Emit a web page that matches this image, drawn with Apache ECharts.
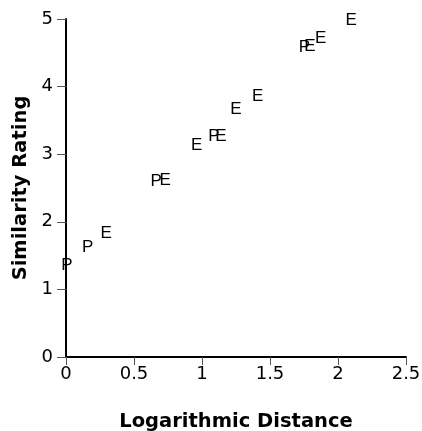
<!DOCTYPE html>
<html>
<head>
<meta charset="utf-8">
<script src="https://cdn.jsdelivr.net/npm/echarts@6/dist/echarts.min.js"></script>
<style>
html,body{margin:0;padding:0;background:#fff;}
#chart{width:422px;height:431px;}
</style>
</head>
<body>
<div id="chart"></div>
<script>
// Data
var eX = [0.296, 0.729, 0.96, 1.14, 1.25, 1.41, 1.794, 1.872, 2.097];
var eY = [1.83, 2.62, 3.13, 3.27, 3.67, 3.85, 4.59, 4.71, 4.975];
var pX = [0.006, 0.16, 0.663, 1.087, 1.754];
var pY = [1.35, 1.62, 2.60, 3.26, 4.575];
var xTicks = [0, 0.5, 1, 1.5, 2, 2.5];
var yTicks = [0, 1, 2, 3, 4, 5];

function pairs(xs, ys){ return xs.map(function(x,i){ return [x, ys[i]]; }); }

var font = '"DejaVu Sans", sans-serif';
var letterFont = '"Liberation Sans", Arial, sans-serif';
function letterSeries(name, xs, ys){
  return {
    type: 'scatter',
    name: name,
    data: pairs(xs, ys),
    symbolSize: 1,
    itemStyle: { color: 'rgba(0,0,0,0)' },
    label: {
      show: true,
      position: 'inside',
      formatter: name,
      color: '#000',
      opacity: 1,
      fontFamily: letterFont,
      fontSize: 17
    },
    emphasis: { disabled: true },
    z: 5
  };
}

var chart = echarts.init(document.getElementById('chart'), null, {renderer: 'canvas'});
chart.setOption({
  animation: false,
  backgroundColor: '#fff',
  grid: { left: 66, right: 16, top: 19, bottom: 74, containLabel: false, outerBoundsMode: 'none' },
  xAxis: {
    type: 'value', min: 0, max: 2.5, interval: 0.5,
    name: 'Logarithmic Distance', nameLocation: 'middle', nameGap: 55,
    nameTextStyle: { fontFamily: font, fontSize: 19.5, fontWeight: 'bold', color: '#000' },
    axisLine: { show: true, onZero: false, lineStyle: { color: '#000', width: 2 } },
    axisTick: { show: true, length: 8, inside: false, lineStyle: { color: '#555', width: 1 } },
    axisLabel: {
      fontFamily: font, fontSize: 18, color: '#000', margin: 8,
      formatter: function(v){ return xTicks.indexOf(v) >= 0 ? String(v) : ''; }
    },
    splitLine: { show: false }
  },
  yAxis: {
    type: 'value', min: 0, max: 5, interval: 1,
    name: 'Similarity Rating', nameLocation: 'middle', nameGap: 33, nameRotate: 90,
    nameTextStyle: { fontFamily: font, fontSize: 19.5, fontWeight: 'bold', color: '#000' },
    axisLine: { show: true, onZero: false, lineStyle: { color: '#000', width: 2 } },
    axisTick: { show: true, length: 9, inside: false, lineStyle: { color: '#555', width: 1 } },
    axisLabel: {
      fontFamily: font, fontSize: 18, color: '#000', margin: 13,
      formatter: function(v){ return yTicks.indexOf(v) >= 0 ? String(v) : ''; }
    },
    splitLine: { show: false }
  },
  series: [ letterSeries('P', pX, pY), letterSeries('E', eX, eY) ]
});
</script>
</body>
</html>
